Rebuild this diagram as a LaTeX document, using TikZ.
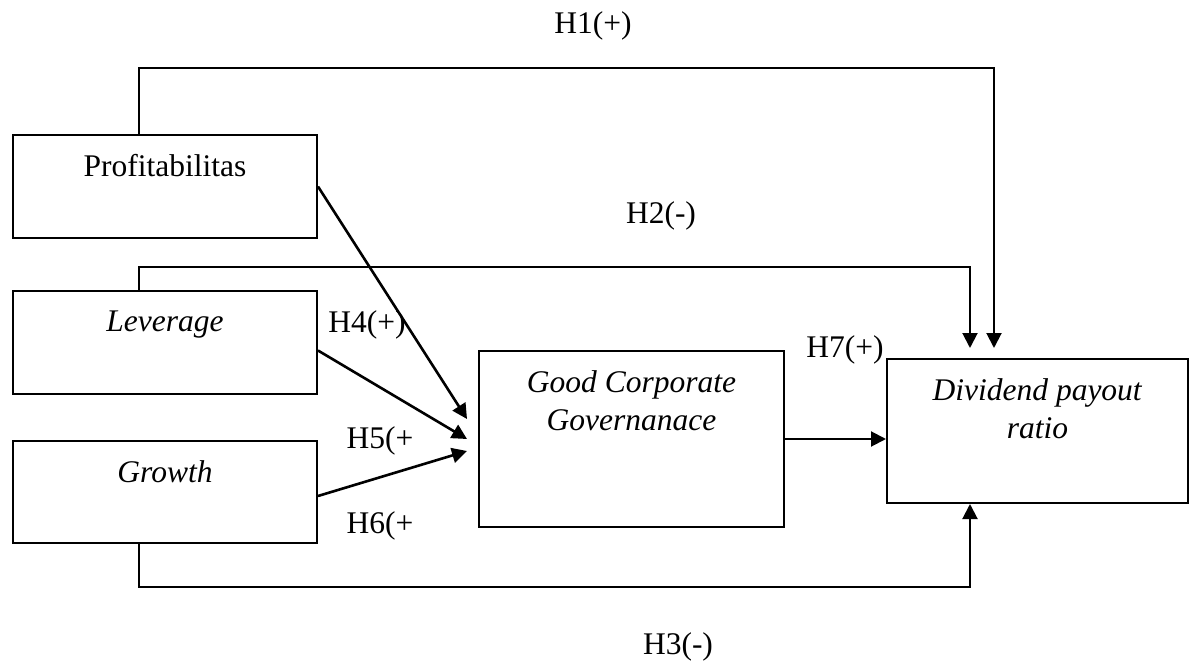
\documentclass[tikz,border=0pt]{standalone}
\usepackage{fontspec}
\setmainfont{Liberation Serif}
\usetikzlibrary{arrows.meta, calc, positioning}
\tikzset{
  varbox/.style={draw, line width=1pt, anchor=north west, inner sep=0pt},
  boxtext/.style={anchor=north, inner sep=0pt, yshift=-10pt, align=center},
  link/.style={line width=1pt, -{Triangle[length=7.5pt, width=7.5pt]}},
  hyp/.style={anchor=base, inner sep=0pt}
}

\begin{document}
\begin{tikzpicture}[x=0.5pt, y=-0.5pt, font=\fontsize{15.75}{19}\selectfont]
\useasboundingbox (0,0) rectangle (1191,664);
% Variables
\node[varbox, minimum width=152pt, minimum height=51.5pt, label={[boxtext]north:Profitabilitas}] (prof) at (12,134) {};
\node[varbox, minimum width=152pt, minimum height=51.5pt, label={[boxtext]north:\textit{Leverage}}] (lev) at (12,290) {};
\node[varbox, minimum width=152pt, minimum height=51pt, label={[boxtext]north:\textit{Growth}}] (gro) at (12,440) {};
\node[varbox, minimum width=152.5pt, minimum height=88pt, label={[boxtext]north:{\textit{Good Corporate}\\\textit{Governanace}}}] (gcg) at (478,350) {};
\node[varbox, minimum width=150.5pt, minimum height=72pt, label={[boxtext]north:{\textit{Dividend payout}\\\textit{ratio}}}] (dpr) at (886,358) {};
% Direct paths to the dependent variable
\draw[link, shorten >=5pt] ([xshift=63.5pt]prof.north west) -- ++(0,-66) -| ([xshift=-21.75pt]dpr.north);
\draw[link, shorten >=5pt] ([xshift=63.5pt]lev.north west) -- ++(0,-23) -| ([xshift=-33.75pt]dpr.north);
\draw[link] ([xshift=63.5pt]gro.south west) -- ++(0,43) -| ([xshift=-33.75pt]dpr.south);
% Paths through GCG
\draw[link, line width=1.3pt] (prof.east) -- ([xshift=-5.5pt, yshift=10pt]gcg.west);
\draw[link, line width=1.3pt] ([yshift=-4pt]lev.east) -- ([xshift=-5.5pt]gcg.west);
\draw[link, line width=1.3pt] ([yshift=-2pt]gro.east) -- ([xshift=-5.5pt, yshift=-6pt]gcg.west);
\draw[link] (gcg.east) -- (gcg.east -| dpr.west);
% Hypotheses
\node[hyp] (h1) at (593,33) {H1(+)};
\node[hyp] (h2) at (661,223) {H2(-)};
\node[hyp] (h3) at (678,654) {H3(-)};
\node[hyp] (h4) at (367,332) {H4(+)};
\node[hyp] (h5) at (380,448) {H5(+};
\node[hyp] (h6) at (380,533) {H6(+};
\node[hyp] (h7) at (845,357) {H7(+)};
\end{tikzpicture}
\end{document}
